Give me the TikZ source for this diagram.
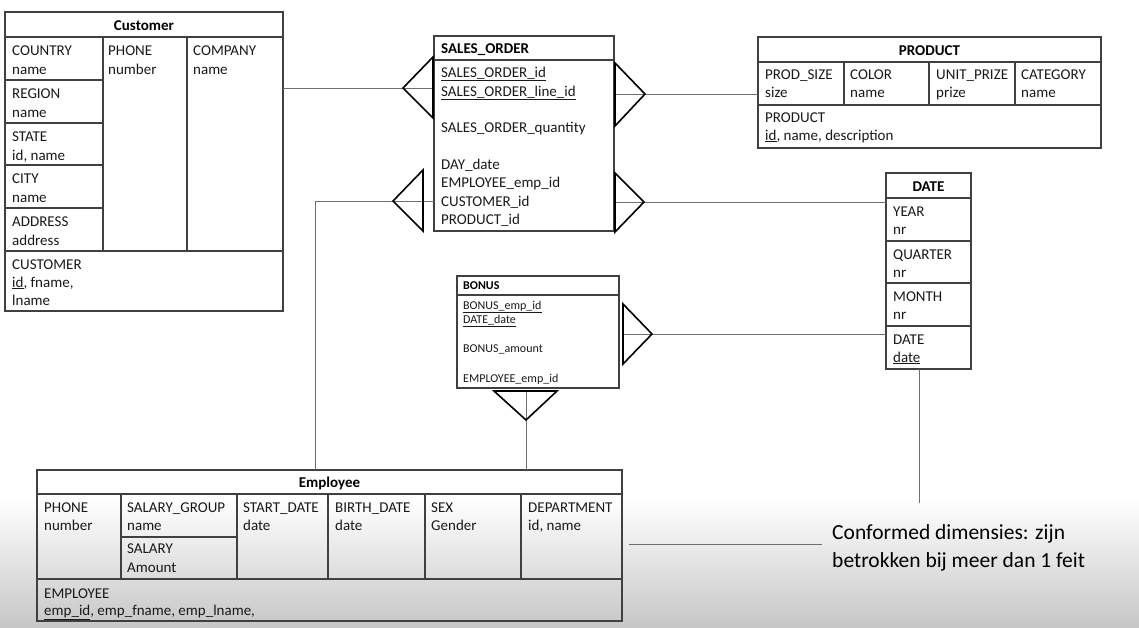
\documentclass[tikz,border=0pt]{standalone}
\usepackage{fontspec}
\setmainfont{Carlito}
\definecolor{boxcol}{HTML}{404040}
\definecolor{linecol}{HTML}{6E6E6E}
\begin{document}
\begin{tikzpicture}[x=1pt,y=-1pt,
  tbl/.style={draw=boxcol, line width=1.2pt, inner sep=0pt, outer sep=0pt, anchor=north west},
  div/.style={draw=boxcol, line width=1.1pt},
  conn/.style={draw=linecol, line width=1pt},
  crow/.style={draw=black, line width=1.6pt, line join=miter},
  t/.style={anchor=base west, inner sep=0pt, font=\fontsize{15}{18}\selectfont, text=black!90},
  tt/.style={anchor=base, inner sep=0pt, font=\fontsize{15}{18}\selectfont\bfseries},
  tl/.style={anchor=base west, inner sep=0pt, font=\fontsize{15}{18}\selectfont\bfseries},
  ts/.style={anchor=base west, inner sep=0pt, font=\fontsize{12}{14}\selectfont, text=black!90},
  tsb/.style={anchor=base west, inner sep=0pt, font=\fontsize{12}{14}\selectfont\bfseries},
  note/.style={anchor=base west, inner sep=0pt, font=\fontsize{21.5}{28}\selectfont, text=black}
]
\useasboundingbox (0,0) rectangle (1139,627);
\shade[top color=white, bottom color=black!22] (0,498) rectangle (1139,627);

% ---------- tables (outer frames) ----------
\node[tbl, minimum width=278pt, minimum height=299pt] (cust) at (5,12) {};
\node[tbl, minimum width=180pt, minimum height=195pt] (so) at (434,36) {};
\node[tbl, minimum width=343pt, minimum height=111pt] (prod) at (758,37) {};
\node[tbl, minimum width=85pt, minimum height=196pt] (date) at (886,173) {};
\node[tbl, minimum width=162pt, minimum height=112pt] (bonus) at (457,276) {};
\node[tbl, minimum width=585pt, minimum height=151pt] (emp) at (37,470) {};

% ---------- Customer ----------
\draw[div] (5,37) -- (283,37);
\draw[div] (5,251) -- (283,251);
\draw[div] (103,37) -- (103,251);
\draw[div] (187,37) -- (187,251);
\foreach \yy in {80,123,165,208} \draw[div] (5,\yy) -- (103,\yy);
\node[tt] (custT) at (144,30) {Customer};
\node[t] (c1a) at (12,55) {COUNTRY};
\node[t] (c1b) at (12,74) {name};
\node[t] (c2a) at (12,98) {REGION};
\node[t] (c2b) at (12,117) {name};
\node[t] (c3a) at (12,141) {STATE};
\node[t] (c3b) at (12,160) {id, name};
\node[t] (c4a) at (12,183) {CITY};
\node[t] (c4b) at (12,202) {name};
\node[t] (c5a) at (12,226) {ADDRESS};
\node[t] (c5b) at (12,245) {address};
\node[t] (c6a) at (108,55) {PHONE};
\node[t] (c6b) at (108,74) {number};
\node[t] (c7a) at (193,55) {COMPANY};
\node[t] (c7b) at (193,74) {name};
\node[t] (c8a) at (12,269) {CUSTOMER};
\node[t] (c8b) at (12,287) {\underline{id}, fname,};
\node[t] (c8c) at (12,305) {lname};

% ---------- SALES_ORDER ----------
\draw[div] (434,60) -- (614,60);
\node[tl] (soT) at (441,53) {SALES\_ORDER};
\node[t] (so1) at (441,77) {\underline{SALES\_ORDER\_id}};
\node[t] (so2) at (441,96) {\underline{SALES\_ORDER\_line\_id}};
\node[t] (so3) at (441,132) {SALES\_ORDER\_quantity};
\node[t] (so4) at (441,169) {DAY\_date};
\node[t] (so5) at (441,187) {EMPLOYEE\_emp\_id};
\node[t] (so6) at (441,206) {CUSTOMER\_id};
\node[t] (so7) at (441,224) {PRODUCT\_id};

% ---------- PRODUCT ----------
\draw[div] (758,62) -- (1101,62);
\draw[div] (758,105) -- (1101,105);
\foreach \xx in {844,929,1015} \draw[div] (\xx,62) -- (\xx,105);
\node[tt] (prodT) at (929.5,55) {PRODUCT};
\node[t] (p1a) at (765,79) {PROD\_SIZE};
\node[t] (p1b) at (765,97) {size};
\node[t] (p2a) at (850,79) {COLOR};
\node[t] (p2b) at (850,97) {name};
\node[t] (p3a) at (936,79) {UNIT\_PRIZE};
\node[t] (p3b) at (936,97) {prize};
\node[t] (p4a) at (1021,79) {CATEGORY};
\node[t] (p4b) at (1021,97) {name};
\node[t] (p5a) at (765,122) {PRODUCT};
\node[t] (p5b) at (765,140) {\underline{id}, name, description};

% ---------- DATE ----------
\foreach \yy in {198,241,283,326} \draw[div] (886,\yy) -- (971,\yy);
\node[tt] (dateT) at (928.5,191) {DATE};
\node[t] (d1a) at (893,216) {YEAR};
\node[t] (d1b) at (893,234) {nr};
\node[t] (d2a) at (893,259) {QUARTER};
\node[t] (d2b) at (893,277) {nr};
\node[t] (d3a) at (893,301) {MONTH};
\node[t] (d3b) at (893,319) {nr};
\node[t] (d4a) at (893,344) {DATE};
\node[t] (d4b) at (893,362) {\underline{date}};

% ---------- BONUS ----------
\draw[div] (457,295) -- (619,295);
\node[tsb] (bonT) at (463,289) {BONUS};
\node[ts] (b1) at (463,309) {\underline{BONUS\_emp\_id}};
\node[ts] (b2) at (463,323) {\underline{DATE\_date}};
\node[ts] (b3) at (463,352) {BONUS\_amount};
\node[ts] (b4) at (463,382) {EMPLOYEE\_emp\_id};

% ---------- Employee ----------
\draw[div] (37,494) -- (622,494);
\draw[div] (37,579) -- (622,579);
\foreach \xx in {121,237,328,425,521} \draw[div] (\xx,494) -- (\xx,579);
\draw[div] (121,537) -- (237,537);
\node[tt] (empT) at (329.5,487) {Employee};
\node[t] (e1a) at (44,512) {PHONE};
\node[t] (e1b) at (44,530) {number};
\node[t] (e2a) at (127,512) {SALARY\_GROUP};
\node[t] (e2b) at (127,530) {name};
\node[t] (e3a) at (127,553) {SALARY};
\node[t] (e3b) at (127,572) {Amount};
\node[t] (e4a) at (243,512) {START\_DATE};
\node[t] (e4b) at (243,530) {date};
\node[t] (e5a) at (335,512) {BIRTH\_DATE};
\node[t] (e5b) at (335,530) {date};
\node[t] (e6a) at (431,512) {SEX};
\node[t] (e6b) at (431,530) {Gender};
\node[t] (e7a) at (528,512) {DEPARTMENT};
\node[t] (e7b) at (528,530) {id, name};
\node[t] (e8a) at (44,598) {EMPLOYEE};
\node[t] (e8b) at (44,615) {\underline{emp\_id}, emp\_fname, emp\_lname,};

% ---------- connectors ----------
\coordinate (y88) at (0,88);
\coordinate (y94) at (0,94);
\coordinate (y202) at (0,202);
\coordinate (y201) at (0,201);
\coordinate (y334) at (0,334);
\coordinate (x315) at (315,0);
\coordinate (x526) at (526,0);

% Customer -- SALES_ORDER
\draw[conn] (cust.east |- y88) -- (so.west |- y88);
\draw[crow] (403,88) -- (433,57) -- (433,118) -- cycle;
% SALES_ORDER -- PRODUCT
\draw[conn] (so.east |- y94) -- (prod.west |- y94);
\draw[crow] (645,94) -- (615,63) -- (615,126) -- cycle;
% SALES_ORDER -- DATE
\draw[conn] (so.east |- y202) -- (date.west |- y202);
\draw[crow] (644,202) -- (615,173) -- (615,232) -- cycle;
% Employee -- SALES_ORDER
\draw[conn] (emp.north -| x315) -- (x315 |- y201) -- (so.west |- y201);
\draw[crow] (393,201) -- (423,170) -- (423,231) -- cycle;
% BONUS -- DATE
\draw[conn] (623,334) -- (date.west |- y334);
\draw[crow] (652,334) -- (623,304) -- (623,364) -- cycle;
% Employee -- BONUS
\draw[conn] (emp.north -| x526) -- (526,391);
\draw[crow] (526,420) -- (494,391) -- (557,391) -- cycle;

% ---------- annotation ----------
\coordinate (a1) at (919,503);
\coordinate (a2) at (629,544);
\coordinate (a3) at (822,544);
\draw[conn] (date.south -| a1) -- (a1);
\draw[conn] (a2) -- (a3);
\node[note] (n1) at (832,539) {Conformed dimensies: zijn};
\node[note] (n2) at (832,567) {betrokken bij meer dan 1 feit};
\end{tikzpicture}
\end{document}
